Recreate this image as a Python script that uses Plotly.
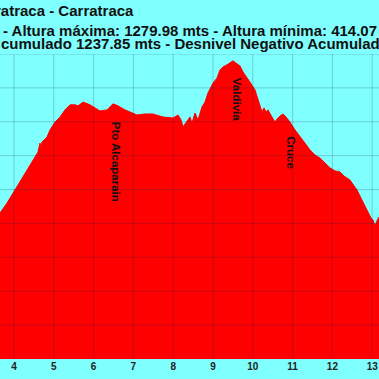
import plotly.graph_objects as go

distance_km = [3.648, 3.824, 4.025, 4.226, 4.477, 4.60, 4.653, 4.68, 4.704, 4.75, 4.829, 4.905,
               5.030, 5.156, 5.281, 5.407, 5.533, 5.61, 5.734, 5.910, 6.161, 6.337, 6.487,
               6.613, 6.789, 6.915, 7.090, 7.291, 7.492, 7.744, 7.995, 8.121, 8.196, 8.246,
               8.347, 8.422, 8.472, 8.548, 8.623, 8.724, 8.799, 8.874, 9.000, 9.101, 9.176,
               9.251, 9.352, 9.452, 9.503, 9.578, 9.678, 9.754, 9.829, 9.930, 10.055, 10.131,
               10.181, 10.231, 10.281, 10.332, 10.382, 10.432, 10.482, 10.558, 10.608, 10.683,
               10.759, 10.834, 10.935, 11.060, 11.186, 11.312, 11.437, 11.563, 11.688, 11.814,
               11.940, 12.065, 12.191, 12.291, 12.367, 12.442, 12.543, 12.618, 12.693, 12.769,
               12.844, 12.894, 12.970, 13.020, 13.070, 13.121, 13.171]
elevation_m = [831, 860, 899, 937, 987, 1010, 1037, 1025, 1040, 1045, 1055, 1076,
               1099, 1114, 1135, 1150, 1150, 1147, 1158, 1150, 1132, 1135, 1153,
               1147, 1135, 1129, 1120, 1123, 1123, 1114, 1111, 1120, 1106, 1085,
               1102, 1114, 1096, 1126, 1105, 1144, 1158, 1185, 1214, 1229, 1253,
               1262, 1268, 1276, 1280, 1273, 1265, 1247, 1235, 1217, 1194, 1167,
               1147, 1129, 1141, 1129, 1135, 1123, 1114, 1099, 1108, 1117,
               1123, 1114, 1099, 1076, 1055, 1037, 1017, 1002, 993, 978,
               964, 955, 952, 940, 934, 928, 911, 899, 881, 863,
               846, 831, 816, 810, 793, 808, 819]

waypoint_names = ["Pto Alcaparain", "Valdivia", "Cruce"]
waypoint_km = [6.55, 9.60, 10.96]
waypoint_elev = [1140, 1270, 1100]

x_ticks = [4, 5, 6, 7, 8, 9, 10, 11, 12, 13]
y_grid = [500, 600, 700, 800, 900, 1000, 1100, 1200, 1300]

title_lines = ["ratraca - Carratraca",
               "- Altura máxima: 1279.98 mts - Altura mínima: 414.07",
               "cumulado 1237.85 mts - Desnivel Negativo Acumulado"]

W, H = 379, 379
M_T, M_B = 54, 20
plot_h = H - M_T - M_B

fig = go.Figure()
fig.add_trace(go.Scatter(x=distance_km, y=elevation_m, mode="lines",
                         line=dict(color="#FF0000", width=1),
                         fill="tozeroy", fillcolor="#FF0000", hoverinfo="skip"))

grid_col = "rgba(0,40,80,0.22)"
shapes = []
for t in x_ticks:
    shapes.append(dict(type="line", xref="x", yref="paper", x0=t, x1=t, y0=0, y1=1,
                       line=dict(color=grid_col, width=1), layer="above"))
for g in y_grid:
    shapes.append(dict(type="line", xref="paper", yref="y", x0=0, x1=1, y0=g, y1=g,
                       line=dict(color=grid_col, width=1), layer="above"))

annotations = []
for name, k, e in zip(waypoint_names, waypoint_km, waypoint_elev):
    annotations.append(dict(x=k, y=e, xref="x", yref="y", text="<b>" + name + "</b>",
                            showarrow=False, textangle=90, xanchor="center", yanchor="top",
                            yshift=-12,
                            font=dict(family="Liberation Sans, Arial", size=11.5, color="#111111")))

title_py = [11, 30.5, 43.5]
title_px = [-7, 1, -1]
for txt, ty, tx in zip(title_lines, title_py, title_px):
    annotations.append(dict(x=tx / W, y=(H - M_B - ty) / plot_h, xref="paper", yref="paper",
                            xanchor="left", yanchor="middle", text="<b>" + txt + "</b>",
                            showarrow=False,
                            font=dict(family="Liberation Sans, Arial", size=15, color="#111111")))

fig.update_layout(
    width=W, height=H,
    margin=dict(l=0, r=0, t=M_T, b=M_B, pad=0),
    paper_bgcolor="#80FFFF", plot_bgcolor="#80FFFF",
    showlegend=False,
    shapes=shapes, annotations=annotations,
    xaxis=dict(range=[3.648, 13.171], tickvals=x_ticks, ticktext=[f"<b>{t}</b>" for t in x_ticks],
               showgrid=False, zeroline=False, showline=False, ticks="",
               ticklabeloverflow="allow",
               tickfont=dict(family="Liberation Sans, Arial", size=10, color="#222222"),
               fixedrange=True),
    yaxis=dict(range=[400, 1300], showgrid=False, zeroline=False, showticklabels=False,
               showline=False, ticks="", fixedrange=True),
)

fig.write_html("out.html", config={"displayModeBar": False},
               post_script="document.body.style.margin='0';document.body.style.overflow='hidden';")
